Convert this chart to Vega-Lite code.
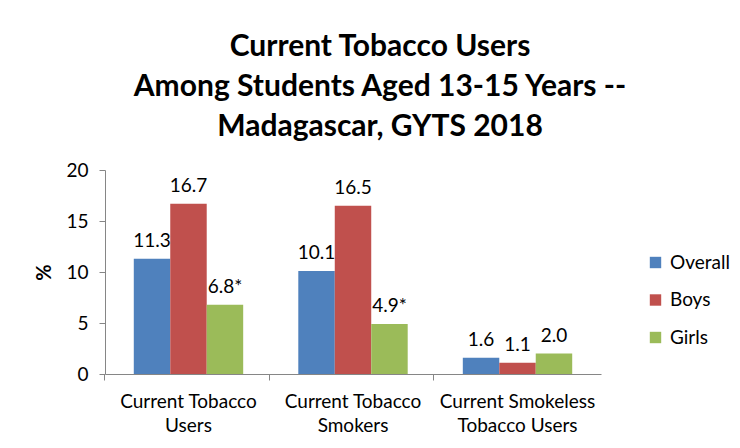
{
  "$schema": "https://vega.github.io/schema/vega-lite/v6.json",
  "autosize": {"type": "none"},
  "width": 496,
  "height": 204,
  "padding": {"left": 105, "top": 170, "right": 139, "bottom": 74},
  "background": "white",
  "title": {
    "text": ["Current Tobacco Users", "Among Students Aged 13-15 Years --", "Madagascar, GYTS 2018"],
    "font": "Lato",
    "fontSize": 30,
    "fontWeight": "bold",
    "color": "#000000",
    "lineHeight": 40,
    "anchor": "middle",
    "dx": 27,
    "offset": 19
  },
  "data": {
    "values": [
      {"category": "Current Tobacco Users", "group": "Overall", "value": 11.3, "label": "11.3"},
      {"category": "Current Tobacco Users", "group": "Boys", "value": 16.7, "label": "16.7"},
      {"category": "Current Tobacco Users", "group": "Girls", "value": 6.8, "label": "6.8*"},
      {"category": "Current Tobacco Smokers", "group": "Overall", "value": 10.1, "label": "10.1"},
      {"category": "Current Tobacco Smokers", "group": "Boys", "value": 16.5, "label": "16.5"},
      {"category": "Current Tobacco Smokers", "group": "Girls", "value": 4.9, "label": "4.9*"},
      {"category": "Current Smokeless Tobacco Users", "group": "Overall", "value": 1.6, "label": "1.6"},
      {"category": "Current Smokeless Tobacco Users", "group": "Boys", "value": 1.1, "label": "1.1"},
      {"category": "Current Smokeless Tobacco Users", "group": "Girls", "value": 2.0, "label": "2.0"}
    ]
  },
  "encoding": {
    "x": {
      "field": "category",
      "type": "nominal",
      "sort": ["Current Tobacco Users", "Current Tobacco Smokers", "Current Smokeless Tobacco Users"],
      "scale": {"paddingInner": 0.335, "paddingOuter": 0.175},
      "axis": {
        "title": null,
        "labelAngle": 0,
        "bandPosition": -0.2636,
        "labelExpr": "datum.label == 'Current Tobacco Users' ? ['Current Tobacco', 'Users'] : datum.label == 'Current Tobacco Smokers' ? ['Current Tobacco', 'Smokers'] : ['Current Smokeless', 'Tobacco Users']",
        "labelFont": "Lato",
        "labelFontSize": 19,
        "labelColor": "#000000",
        "labelLineHeight": 24,
        "labelPadding": 12,
        "domainColor": "#868686",
        "tickColor": "#868686",
        "tickSize": 6,
        "labelBaseline": "top"
      }
    },
    "xOffset": {"field": "group", "type": "nominal", "sort": ["Overall", "Boys", "Girls"]},
    "y": {
      "field": "value",
      "type": "quantitative",
      "scale": {"domain": [0, 20]},
      "axis": {
        "title": "%",
        "titleFont": "Lato",
        "titleFontSize": 20,
        "titleFontWeight": "bold",
        "titleColor": "#000000",
        "titlePadding": 11,
        "values": [0, 5, 10, 15, 20],
        "grid": false,
        "labelFont": "Lato",
        "labelFontSize": 19,
        "labelColor": "#000000",
        "labelPadding": 11,
        "domainColor": "#868686",
        "tickColor": "#868686",
        "tickSize": 6
      }
    }
  },
  "layer": [
    {
      "mark": {"type": "bar"},
      "encoding": {
        "color": {
          "field": "group",
          "type": "nominal",
          "sort": ["Overall", "Boys", "Girls"],
          "scale": {"domain": ["Overall", "Boys", "Girls"], "range": ["#4F81BD", "#C0504D", "#9BBB59"]},
          "legend": {
            "title": null,
            "orient": "none",
            "legendX": 541,
            "legendY": 83,
            "symbolType": "square",
            "symbolSize": 130,
            "symbolStrokeWidth": 0,
            "labelFont": "Lato",
            "labelFontSize": 19,
            "labelColor": "#000000",
            "rowPadding": 17.5,
            "labelOffset": 5
          }
        }
      }
    },
    {
      "mark": {"type": "text", "baseline": "bottom", "dy": -8, "font": "Lato", "fontSize": 19, "color": "#000000"},
      "encoding": {"text": {"field": "label"}}
    }
  ],
  "config": {"view": {"stroke": null}}
}
